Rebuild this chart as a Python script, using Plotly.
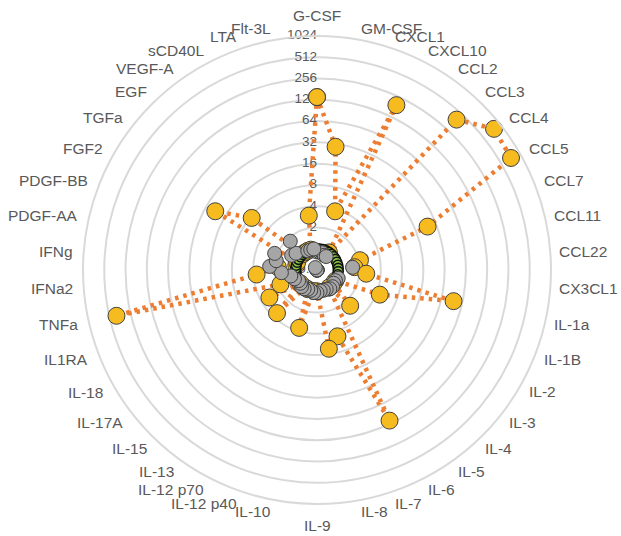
import math
import plotly.graph_objects as go

# Analytes around the radar, clockwise from the top
cytokines = [
    "G-CSF", "GM-CSF", "CXCL1", "CXCL10", "CCL2", "CCL3", "CCL4", "CCL5",
    "CCL7", "CCL11", "CCL22", "CX3CL1", "IL-1a", "IL-1B", "IL-2", "IL-3",
    "IL-4", "IL-5", "IL-6", "IL-7", "IL-8", "IL-9", "IL-10", "IL-12 p40",
    "IL-12 p70", "IL-13", "IL-15", "IL-17A", "IL-18", "IL1RA", "TNFa",
    "IFNa2", "IFNg", "PDGF-AA", "PDGF-BB", "FGF2", "TGFa", "EGF", "VEGF-A",
    "sCD40L", "LTA", "Flt-3L",
]

# Fold change, stimulated sample
stimulated = [
    140, 29, 3.7, 194, 1.0, 400, 800, 740,
    24, 2.1, 1.7, 2.5, 48, 4.5, 1.0, 1.0,
    2.45, 1.0, 116, 4.8, 6.7, 1.0, 1.0, 3.6,
    1.0, 1.0, 3.4, 1.0, 3.0, 1.8, 407,
    3.6, 1.8, 1.0, 1.0, 23, 7.6, 1.0, 1.0,
    1.0, 1.0, 3.0,
]

# Fold change, vehicle sample
vehicle = [
    0.9, 0.9, 0.9, 0.85, 0.85, 0.5, 0.5, 0.5,
    0.5, 0.5, 1.6, 0.5, 0.5, 1.05, 1.0, 1.0,
    1.05, 1.05, 1.0, 1.0, 1.0, 1.05, 1.05, 1.0,
    1.0, 1.05, 1.05, 1.0, 1.0, 1.1, 1.2,
    1.6, 2.35, 1.95, 2.2, 1.3, 1.2, 1.8, 0.55,
    1.0, 1.0, 1.0,
]

# Baseline (unstimulated reference = 1)
baseline = [1.0] * len(cytokines)

radial_ticks = [0.5, 1, 2, 4, 8, 16, 32, 64, 128, 256, 512, 1024]
radial_tick_text = ["0.5", "1", "2", "4", "8", "16", "32", "64", "128", "256", "512", "1024"]

TEXT_GREY = "#595959"
FONT_FAMILY = "Liberation Sans, Arial, sans-serif"
LABEL_FONT = dict(family=FONT_FAMILY, size=15.5, color=TEXT_GREY)


def closed(values):
    return list(values) + [values[0]]


theta_closed = closed(cytokines)

fig = go.Figure()

# Radial scale labels along the vertical spoke, left of it, under the data
fig.add_trace(go.Scatterpolar(
    r=radial_ticks, theta=[cytokines[0]] * len(radial_ticks),
    mode="text", text=radial_tick_text, textposition="middle left",
    textfont=dict(family=FONT_FAMILY, size=13.5, color=TEXT_GREY),
    hoverinfo="skip", showlegend=False,
))

fig.add_trace(go.Scatterpolar(
    r=closed(stimulated), theta=theta_closed, mode="lines+markers",
    line=dict(color="#ED7D31", width=4.5, dash="3.5px,5px"),
    marker=dict(size=17, color="#F6BB1F", line=dict(color="#404040", width=1)),
    name="Stimulated", showlegend=False,
))

fig.add_trace(go.Scatterpolar(
    r=closed(baseline), theta=theta_closed, mode="lines+markers",
    line=dict(color="#7AC143", width=4, dash="dot"),
    marker=dict(size=10, color="#8CCB4A", line=dict(color="#111111", width=1.6)),
    name="Baseline", showlegend=False,
))

fig.add_trace(go.Scatterpolar(
    r=vehicle, theta=cytokines, mode="markers",
    marker=dict(size=14, color="#A6A6A6", line=dict(color="#404040", width=1)),
    name="Vehicle", showlegend=False,
))

# Category labels sit just outside the outer ring, anchored on the side facing away
n = len(cytokines)
annotations = []
for i, name in enumerate(cytokines):
    ang = 2 * math.pi * i / n
    s, c = math.sin(ang), math.cos(ang)
    x = 0.5 + 0.5 * s
    y = 0.5 + 0.5 * c
    if abs(s) < 0.05:
        xanchor, xshift, yshift = "center", 0, c * 21
    else:
        xanchor = "left" if s > 0 else "right"
        xshift = 7 if s > 0 else -9
        yshift = c * 10
    annotations.append(dict(
        text=name, x=x, y=y, xref="paper", yref="paper",
        xanchor=xanchor, yanchor="middle", xshift=xshift, yshift=yshift,
        showarrow=False, font=LABEL_FONT,
    ))

fig.update_layout(
    width=621, height=536,
    margin=dict(l=83, r=70, t=36, b=32),
    paper_bgcolor="white",
    font=dict(family=FONT_FAMILY, color=TEXT_GREY),
    annotations=annotations,
    polar=dict(
        bgcolor="white",
        angularaxis=dict(
            type="category", categoryarray=cytokines,
            direction="clockwise", rotation=90,
            showgrid=False, showline=True, linecolor="#D9D9D9", linewidth=2,
            ticks="", showticklabels=False,
        ),
        radialaxis=dict(
            type="log",
            range=[math.log10(0.5), math.log10(1024)],
            tickvals=radial_ticks, showticklabels=False,
            angle=90, showline=False, ticks="",
            gridcolor="#D9D9D9", gridwidth=2,
            layer="below traces",
        ),
    ),
)

fig.write_html("out.html")
